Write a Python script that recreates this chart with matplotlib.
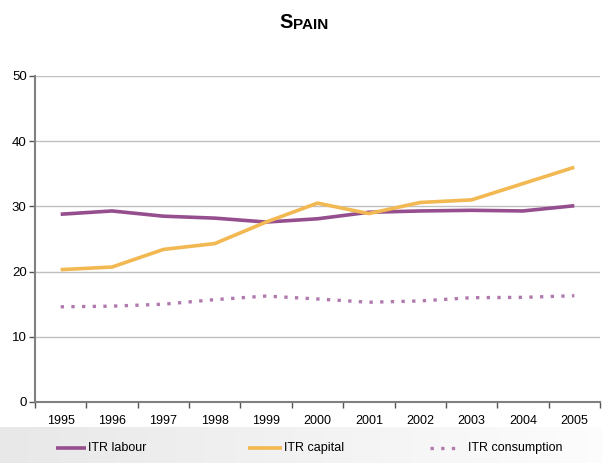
import matplotlib
matplotlib.use("Agg")
import matplotlib.pyplot as plt
import numpy as np
from matplotlib import font_manager

years = ["1995", "1996", "1997", "1998", "1999", "2000", "2001", "2002", "2003", "2004", "2005"]
itr_labour = [28.8, 29.3, 28.5, 28.2, 27.6, 28.1, 29.1, 29.3, 29.4, 29.3, 30.1]
itr_capital = [20.3, 20.7, 23.4, 24.3, 27.6, 30.5, 28.9, 30.6, 31.0, 33.5, 36.0]
itr_consumption = [14.6, 14.7, 15.0, 15.7, 16.25, 15.8, 15.3, 15.5, 16.0, 16.05, 16.3]
series_names = ["ITR labour", "ITR capital", "ITR consumption"]

plt.rcParams['font.family'] = ['Liberation Sans', 'DejaVu Sans']

names = {f.name for f in font_manager.fontManager.ttflist}
title_fam = ['Liberation Sans Narrow', 'Liberation Sans'] if 'Liberation Sans Narrow' in names else ['Liberation Sans']

fig = plt.figure(figsize=(6.02, 4.63), dpi=100)
fig.patch.set_facecolor('white')

# legend band gradient background
bg = fig.add_axes([0, 0, 1, 1 - 427/463], zorder=-5)
grad = np.linspace(0.91, 0.99, 256).reshape(1, -1)
bg.imshow(np.dstack([grad, grad, grad]), aspect='auto', extent=[0, 1, 0, 1])
bg.set_axis_off()

ax = fig.add_axes([35/602, 1 - 402/463, (600 - 35)/602, (402 - 76)/463])
x = np.arange(len(years))
purple = '#954F8E'
orange = '#F2B852'
cons = '#B07AAE'
ax.plot(x, itr_labour, color=purple, lw=2.6, solid_capstyle='butt', zorder=3)
ax.plot(x, itr_capital, color=orange, lw=2.6, solid_capstyle='butt', zorder=3)
ax.plot(x, itr_consumption, color=cons, lw=2.4, linestyle=(0, (1, 2.2)), zorder=3)

ax.set_xlim(-0.5, len(years) - 0.5)
ax.set_ylim(0, 50)
ax.set_yticks([0, 10, 20, 30, 40, 50])
ax.set_xticks(x)
ax.set_xticklabels(years)
ax.set_xticks(np.arange(-0.5, len(years) - 0.4, 1), minor=True)
ax.tick_params(axis='x', which='major', length=0, pad=9, labelsize=9)
ax.tick_params(axis='x', which='minor', length=4, direction='out', color='#555555', width=1)
ax.tick_params(axis='y', length=4, direction='out', color='#555555', width=1, labelsize=9.5, pad=2)
ax.yaxis.grid(True, color='#c0c0c0', lw=1)
ax.set_axisbelow(True)
for s in ['top', 'right']:
    ax.spines[s].set_visible(False)
ax.spines['left'].set_color('#808080')
ax.spines['left'].set_linewidth(1.5)
ax.spines['bottom'].set_color('#808080')
ax.spines['bottom'].set_linewidth(1.5)
ax.patch.set_alpha(0)

# title in small caps style
fig.text(0.5 - 8/602, 1 - 23/463, 'S', ha='right', va='center', fontsize=14.5, fontweight='bold', family=title_fam)
fig.text(0.5 - 8/602, 1 - 25/463, 'PAIN', ha='left', va='center', fontsize=11, fontweight='bold', family=title_fam)

# legend
ly = 1 - 448/463
items = [(56, 86, purple, '-', series_names[0]),
         (248, 282, orange, '-', series_names[1]),
         (430, 462, cons, (0, (1, 2.2)), series_names[2])]
for x0, x1, c, ls, lab in items:
    fig.add_artist(plt.Line2D([x0/602, x1/602], [ly, ly], color=c, lw=2.6 if ls == '-' else 2.4,
                              linestyle=ls, solid_capstyle='butt'))
    fig.text((x1 + 2)/602 if ls == '-' else (x1 + 6)/602, ly, lab, ha='left', va='center', fontsize=9)

fig.savefig('out.png', dpi=100)
